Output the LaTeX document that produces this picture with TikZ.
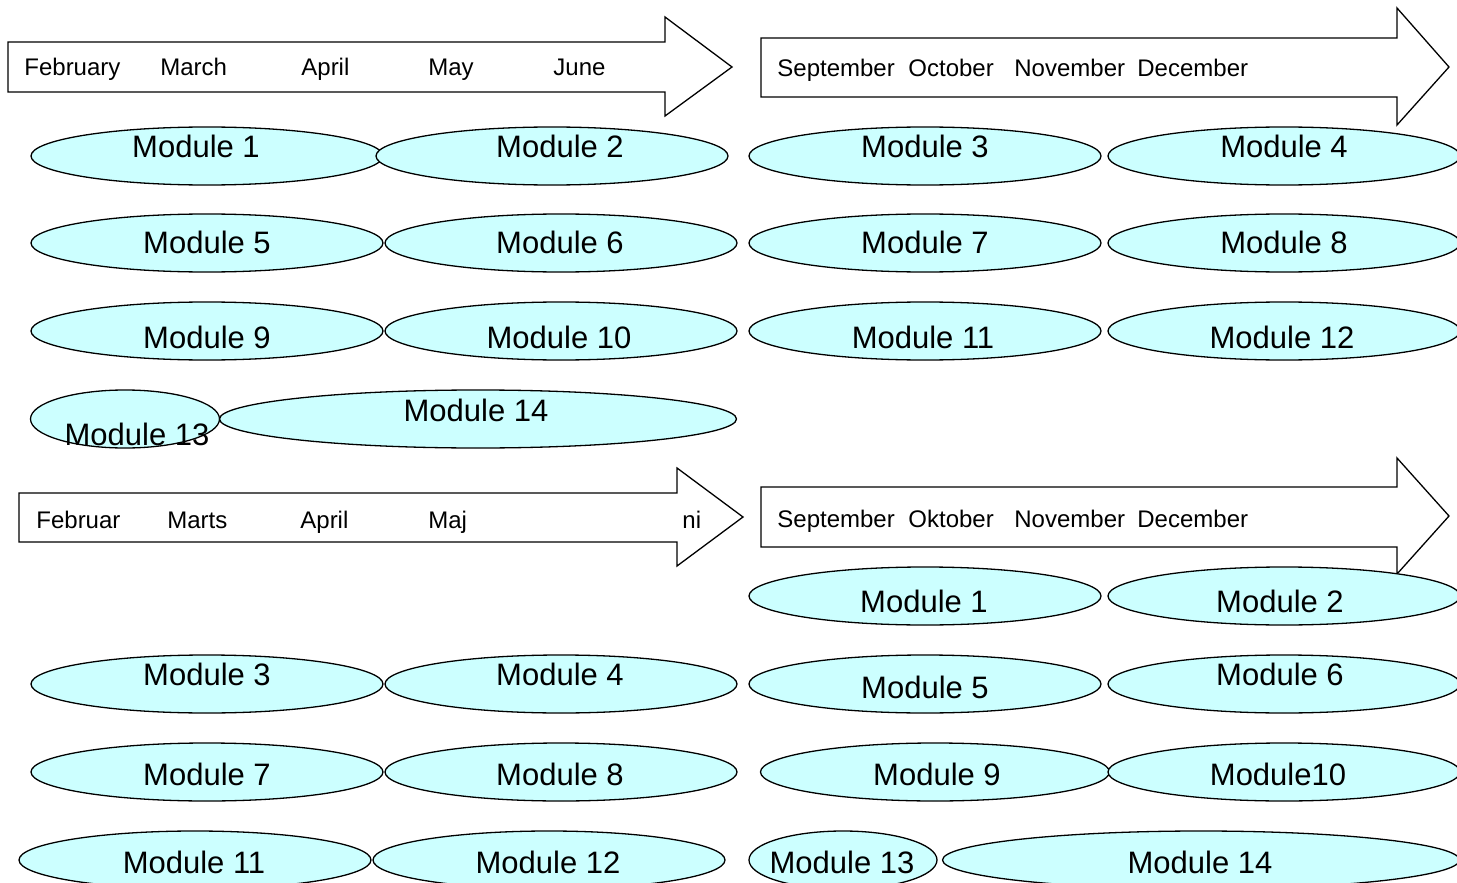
\documentclass[tikz,border=0pt]{standalone}
\usepackage{fontspec}
\setmainfont{Liberation Sans}
\usetikzlibrary{shapes.geometric}
\definecolor{modfill}{HTML}{CCFFFF}

\begin{document}
\begin{tikzpicture}[x=0.5pt,y=-0.5pt,thin]
		\tikzstyle{module}=[ellipse,draw=black,fill=modfill,line width=0.65pt,inner sep=0pt,minimum height=29pt]
		\tikzstyle{modtext}=[inner sep=0pt,font=\fontsize{15.5}{18}\selectfont]
		\tikzstyle{month}=[inner sep=0pt,anchor=base west,font=\fontsize{12}{14}\selectfont]
		\tikzstyle{timeline}=[draw=black,fill=white,line width=0.65pt]
		
		\clip (0,0) rectangle (1457,883);
		
		% time arrows
		\draw[timeline] (8,42) -- (665,42) -- (665,17) -- (732,67) -- (665,116) -- (665,92) -- (8,92) -- cycle;
		\draw[timeline] (761,38) -- (1397,38) -- (1397,8) -- (1449,67) -- (1397,125) -- (1397,97) -- (761,97) -- cycle;
		\draw[timeline] (19,493) -- (677,493) -- (677,468) -- (743,517) -- (677,566) -- (677,542) -- (19,542) -- cycle;
		\draw[timeline] (761,487) -- (1397,487) -- (1397,458) -- (1449,516) -- (1397,574) -- (1397,547) -- (761,547) -- cycle;
		
		\node[month] (FebA) at (24,76)   {February};
		\node[month] (MarA) at (160,76)  {March};
		\node[month] (AprA) at (301,76)  {April};
		\node[month] (MayA) at (428,76)  {May};
		\node[month] (JunA) at (553,76)  {June};
		\node[month] (SepA) at (777,77)  {September};
		\node[month] (OctA) at (908,77)  {October};
		\node[month] (NovA) at (1014,77) {November};
		\node[month] (DecA) at (1137,77) {December};
		
		\node[month] (FebB) at (36,528)  {Februar};
		\node[month] (MarB) at (167,528) {Marts};
		\node[month] (AprB) at (300,528) {April};
		\node[month] (MajB) at (428,528) {Maj};
		\node[month] (JunB) at (682,528) {ni};
		\node[month] (SepB) at (777,527) {September};
		\node[month] (OktB) at (908,527) {Oktober};
		\node[month] (NovB) at (1014,527) {November};
		\node[month] (DecB) at (1137,527) {December};
		
		% modules, first plan
		\foreach \n/\cx/\cy/\w/\tx/\ty/\txt in {
			1/207/156/352/196/146/Module 1, 2/552/156/352/560/146/Module 2,
			3/925/156/352/925/146/Module 3, 4/1284/156/352/1284/146/Module 4,
			5/207/243/352/207/242/Module 5, 6/561/243/352/560/242/Module 6,
			7/925/243/352/925/242/Module 7, 8/1284/243/352/1284/242/Module 8,
			9/207/331/352/207/337/Module 9, 10/561/331/352/559/337/Module 10,
			11/925/331/352/923/337/Module 11, 12/1284/331/352/1282/337/Module 12,
			13/125/419/189/137/434/Module 13, 14/478/419/517/476/410/Module 14}
		{
			\node[module,minimum width=\w*0.5pt] (ModA\n) at (\cx,\cy) {};
			\node[modtext] (ModA\n-t) at (\tx,\ty) {\txt};
		}
		
		% modules, second plan
		\foreach \n/\cx/\cy/\w/\tx/\ty/\txt in {
			1/925/596/352/924/601/Module 1, 2/1284/596/352/1280/601/Module 2,
			3/207/684/352/207/674/Module 3, 4/561/684/352/560/674/Module 4,
			5/925/684/352/925/687/Module 5, 6/1284/684/352/1280/674/Module 6,
			7/207/772/352/207/774/Module 7, 8/561/772/352/560/774/Module 8,
			9/935/772/349/937/774/Module 9, 10/1284/772/352/1278/774/Module10,
			11/195/860/352/194/862/Module 11, 12/549/860/352/548/862/Module 12,
			13/843/860/188/842/862/Module 13, 14/1201/860/517/1200/862/Module 14}
		{
			\node[module,minimum width=\w*0.5pt] (ModB\n) at (\cx,\cy) {};
			\node[modtext] (ModB\n-t) at (\tx,\ty) {\txt};
		}
\end{tikzpicture}
\end{document}
